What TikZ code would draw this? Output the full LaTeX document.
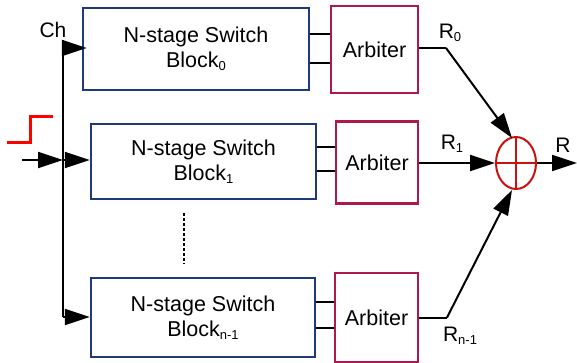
\documentclass[tikz,border=0pt]{standalone}
\usepackage{fontspec}
\setmainfont{Liberation Sans}
\usetikzlibrary{arrows.meta,shapes.geometric}
\definecolor{blkblue}{HTML}{1F3A78}
\definecolor{arbpink}{HTML}{B0174F}
\definecolor{sumred}{HTML}{CC1010}
\newcommand\sbs[1]{\raisebox{-3.5pt}{\fontsize{13}{13}\selectfont #1}}
\begin{document}
\begin{tikzpicture}[x=1pt,y=-1pt,
  blk/.style={draw=blkblue,line width=2.5pt,rectangle,inner sep=0pt,align=center,
    font=\fontsize{21.5}{25}\selectfont},
  arb/.style={draw=arbpink,line width=2.5pt,rectangle,inner sep=0pt,
    font=\fontsize{21.5}{25}\selectfont},
  lbl/.style={inner sep=0pt,font=\fontsize{21}{24}\selectfont},
  conn/.style={line width=2pt,black},
  thin/.style={line width=1.6pt,black},
  arr/.style={conn,-{Triangle[length=25pt,width=16pt]}}
]
\useasboundingbox (0,0) rectangle (577,363);
% switch blocks
\node[blk,minimum width=226pt,minimum height=82pt] (b0) at (196,49)
  {N-stage Switch\\Block\sbs{0}};
\node[blk,minimum width=225pt,minimum height=75pt] (b1) at (203.5,161.5)
  {N-stage Switch\\Block\sbs{1}};
\node[blk,minimum width=224pt,minimum height=79pt] (b2) at (203,317.5)
  {N-stage Switch\\Block\sbs{n-1}};
% arbiters
\node[arb,minimum width=87pt,minimum height=87pt] (a0) at (374.5,49.5) {Arbiter};
\node[arb,minimum width=82pt,minimum height=82pt] (a1) at (377,162.5) {Arbiter};
\node[arb,minimum width=83pt,minimum height=89pt] (a2) at (376.5,317.5) {Arbiter};
% combiner
\node[draw=sumred,line width=2pt,ellipse,inner sep=0pt,minimum width=40pt,minimum height=52pt] (e) at (516,163) {};
\draw[sumred,line width=2pt] (e.north) -- (e.south) (e.west) -- (e.east);
% input bus
\coordinate (vt) at (63,40);
\coordinate (vb) at (63,317);
\coordinate (in) at (22,160);
\draw[conn,line width=2.3pt] (vt) -- (vb);
\draw[arr] (vt|-0,48) -- ([xshift=5pt]b0.west|-0,48);
\draw[arr] (vt|-0,160) -- (b1.west|-0,160);
\draw[arr] (vb) -- (b2.west|-vb);
\draw[arr] (in) -- (vt|-in);
\node[lbl] (ch) at (53,30) {Ch};
% step symbol
\draw[red,line width=3pt] (7,143) -- (30,143) -- (30,117) -- (53,117);
% dots
\draw[line width=1.5pt,dash pattern=on 3pt off 2pt] (184,213) -- (184,264);
% block to arbiter links
\draw[thin] (b0.east|-0,34) -- (a0.west|-0,34);
\draw[thin] (b0.east|-0,63) -- (a0.west|-0,63);
\draw[thin] (b1.east|-0,147) -- (a1.west|-0,147);
\draw[thin] (b1.east|-0,171) -- (a1.west|-0,171);
\draw[thin] (b2.east|-0,302) -- (a2.west|-0,302);
\draw[thin] (b2.east|-0,328) -- (a2.west|-0,328);
% outputs
\coordinate (k0) at (446,48);
\coordinate (t0) at (512,138);
\coordinate (k2) at (447,317.5);
\coordinate (t2) at (512,190);
\coordinate (out) at (577,163);
\draw[conn] (a0.east|-k0) -- (k0);
\draw[arr] (k0) -- (t0);
\draw[arr] (a1.east|-e.west) -- (e.west);
\draw[conn] (a2.east|-k2) -- (k2);
\draw[arr] (k2) -- (t2);
\draw[arr] (e.east) -- (out);
% labels
\node[lbl] (r0) at (450,33) {R\sbs{0}};
\node[lbl] (r1) at (452,144) {R\sbs{1}};
\node[lbl] (r) at (563,145) {R};
\node[lbl] (rn) at (460,336) {R\sbs{n-1}};
\end{tikzpicture}
\end{document}
